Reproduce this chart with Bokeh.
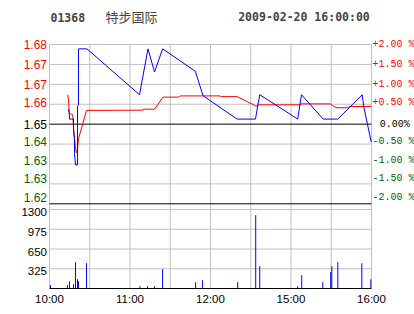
from bokeh.plotting import figure
from bokeh.models import Range1d, LinearAxis, FixedTicker, Label
from bokeh.embed import file_html
from bokeh.resources import INLINE

# ---------------- data ----------------
CODE = "01368"
NAME = "特步国际"
STAMP = "2009-02-20 16:00:00"
PREV_CLOSE = 1.65

# time = minutes on the trading clock after 10:00 (10:00-12:30, 14:30-16:00)
price_t = [14.0, 14.7, 14.9, 17.9, 17.9, 18.6, 18.6, 19.4, 20.9, 20.9, 21.6, 21.6,
           27.9, 67.1, 73.4, 78.3, 84.3, 108.7, 114.4, 139.8, 153.5, 156.7, 185.0,
           187.8, 204.0, 214.9, 233.1, 234.2, 239.8]
price_v = [1.6562, 1.6548, 1.6521, 1.6521, 1.6476, 1.6435, 1.6379, 1.6331, 1.6331, 1.6573,
           1.6581, 1.6812, 1.6812, 1.6622, 1.6812, 1.6716, 1.6812, 1.6719, 1.6618, 1.6521,
           1.6521, 1.6622, 1.6521, 1.6622, 1.6521, 1.6521, 1.6622, 1.6573, 1.6426]

avg_t = [13.6, 14.2, 14.7, 17.3, 17.9, 19.2, 19.9, 20.4, 21.2, 21.6, 27.6, 69.7, 70.1,
         78.3, 84.6, 96.2, 97.5, 127.3, 127.7, 139.8, 152.2, 153.8, 155.9, 187.0, 187.4,
         209.4, 211.9, 214.4, 223.1, 223.4, 239.8]
avg_v = [1.6622, 1.6601, 1.6545, 1.6539, 1.6485, 1.6414, 1.6382, 1.6382, 1.6414, 1.6439,
         1.6557, 1.6558, 1.6562, 1.6562, 1.6612, 1.6612, 1.6617, 1.6617, 1.6614, 1.6614,
         1.6580, 1.6574, 1.6580, 1.6580, 1.6584, 1.6584, 1.6573, 1.6568, 1.6568, 1.6573,
         1.6573]

vol_t = [0.75, 13.4, 14.9, 17.9, 19.4, 20.9, 21.6, 27.6, 67.4, 73.1, 78.3, 84.3, 108.9,
         114.1, 140.3, 153.7, 156.7, 185.0, 188.0, 203.7, 209.6, 210.4, 214.9, 232.8, 239.5]
vol_v = [54, 54, 120, 71, 433, 153, 120, 416, 38, 38, 38, 318, 104,
         137, 104, 1207, 367, 38, 219, 104, 268, 367, 433, 416, 153]

pct_steps = [2.0, 1.5, 1.0, 0.5, 0.0, -0.5, -1.0, -1.5, -2.0]
price_labels = ["1.68", "1.67", "1.67", "1.66", "1.65", "1.64", "1.63", "1.63", "1.62"]
pct_labels = ["+2.00 %", "+1.50 %", "+1.00 %", "+0.50 %", "0.00%",
              "-0.50 %", "-1.00 %", "-1.50 %", "-2.00 %"]
vol_ticks = [325, 650, 975, 1300]
time_ticks = [0, 60, 120, 180, 240]
time_labels = ["10:00", "11:00", "12:00", "15:00", "16:00"]
grid_times = [0, 30, 60, 90, 120, 150, 180, 210, 240]

# ---------------- layout ----------------
W, H = 414, 314
PL, PR = 49, 371                 # panel left / right (px)
PT = 44                          # price panel top (px)
PRICE_PX = 159.3                 # price panel height
VB = 288                         # volume panel bottom (px) = frame bottom
VOL_PX = 79.0                    # volume panel height
RED, GREEN, BLUE, GRID = "#ff0000", "#006400", "#0000ff", "#c0c0c0"

levels = [PREV_CLOSE * (1 + s / 100.0) for s in pct_steps]
p_top, p_bot = levels[0], levels[-1]
t0, t1 = time_ticks[0], time_ticks[-1]
ppm = (PR - PL) / (t1 - t0)
ppu = PRICE_PX / (p_top - p_bot)
vpu = VOL_PX / vol_ticks[-1]
x_rng = Range1d(t0 - PL / ppm, t1 + (W - PR) / ppm)
y_rng = Range1d(p_top - (VB - PT) / ppu, p_top + PT / ppu)

p = figure(width=W, height=H, title=None, toolbar_location=None, output_backend="svg",
           x_range=x_rng, y_range=y_rng,
           min_border_left=0, min_border_right=0, min_border_top=0, min_border_bottom=H - VB,
           x_axis_type=None, y_axis_type=None)
p.extra_y_ranges = {"vol": Range1d(0, VB / vpu)}
p.outline_line_color = None
p.background_fill_color = "white"
p.border_fill_color = "white"
p.xgrid.visible = False
p.ygrid.visible = False

# grid lines of both panels
n = len(grid_times)
p.segment(x0=grid_times, y0=[y_rng.start] * n, x1=grid_times, y1=[p_top] * n,
          line_color=GRID, line_width=1)
grey_lv = [lv for lv, s in zip(levels, pct_steps) if s != 0 and lv != p_bot]
p.segment(x0=[t0] * len(grey_lv), y0=grey_lv, x1=[t1] * len(grey_lv), y1=grey_lv,
          line_color=GRID, line_width=1)
p.segment(x0=[t0] * len(vol_ticks), y0=vol_ticks, x1=[t1] * len(vol_ticks), y1=vol_ticks,
          y_range_name="vol", line_color=GRID, line_width=1)
p.segment(x0=[t0, t0], y0=[PREV_CLOSE, p_bot], x1=[t1, t1], y1=[PREV_CLOSE, p_bot],
          line_color="black", line_width=1)

# time axis
xaxis = LinearAxis(ticker=FixedTicker(ticks=time_ticks), bounds=(t0, t1),
                   major_label_overrides={t: s for t, s in zip(time_ticks, time_labels)},
                   axis_line_color="black", major_tick_line_color=None,
                   minor_tick_line_color=None, major_tick_out=0, major_tick_in=0,
                   minor_tick_out=0, major_label_standoff=4,
                   major_label_text_font="Liberation Sans", major_label_text_font_size="11.5px",
                   major_label_text_color="black")
p.add_layout(xaxis, "below")

# volume tick labels
for v in vol_ticks:
    p.add_layout(Label(x=t0, y=v, y_range_name="vol", text=str(v), text_color="black",
                       x_offset=-2.5, y_offset=-2.5, text_align="right",
                       text_baseline="middle", text_font="Liberation Sans",
                       text_font_size="11.5px"))

# price labels left / percent labels right
nudge = [0, 0, 0, 2, 0, 3, 3.5, 5, 6]
for lvl, s, ptxt, qtxt, dy in zip(levels, pct_steps, price_labels, pct_labels, nudge):
    col = RED if s > 0 else ("black" if s == 0 else GREEN)
    p.add_layout(Label(x=t0, y=lvl, text=ptxt, text_color=col, x_offset=-2.5, y_offset=dy,
                       text_align="right", text_baseline="middle",
                       text_font="Liberation Sans", text_font_size="12px"))
    p.add_layout(Label(x=t1, y=lvl, text=qtxt, text_color=col,
                       x_offset=(8.3 if s == 0 else 1), y_offset=dy,
                       text_align="left", text_baseline="middle",
                       text_font="Liberation Mono", text_font_size="10px"))

# data glyphs
p.segment(x0=vol_t, y0=[0] * len(vol_t), x1=vol_t, y1=vol_v, y_range_name="vol",
          line_color=BLUE, line_width=1)
p.line(avg_t, avg_v, line_color=RED, line_width=1)
p.line(price_t, price_v, line_color=BLUE, line_width=1)

# header (screen units relative to the frame's bottom-left corner)
p.add_layout(Label(x=50, y=VB - 16.7, x_units="screen", y_units="screen",
                   text=CODE, text_font="DejaVu Sans Mono", text_font_style="bold",
                   text_font_size="11.5px", text_baseline="middle", text_align="left"))
p.add_layout(Label(x=105, y=VB - 15.5, x_units="screen", y_units="screen",
                   text=NAME, text_font="Noto Sans CJK SC",
                   text_font_size="13px", text_baseline="middle", text_align="left"))
p.add_layout(Label(x=237.7, y=VB - 16.7, x_units="screen", y_units="screen",
                   text=STAMP, text_font="DejaVu Sans Mono", text_font_style="bold",
                   text_font_size="11.5px", text_baseline="middle", text_align="left"))

open("out.html", "w").write(file_html(p, INLINE))
